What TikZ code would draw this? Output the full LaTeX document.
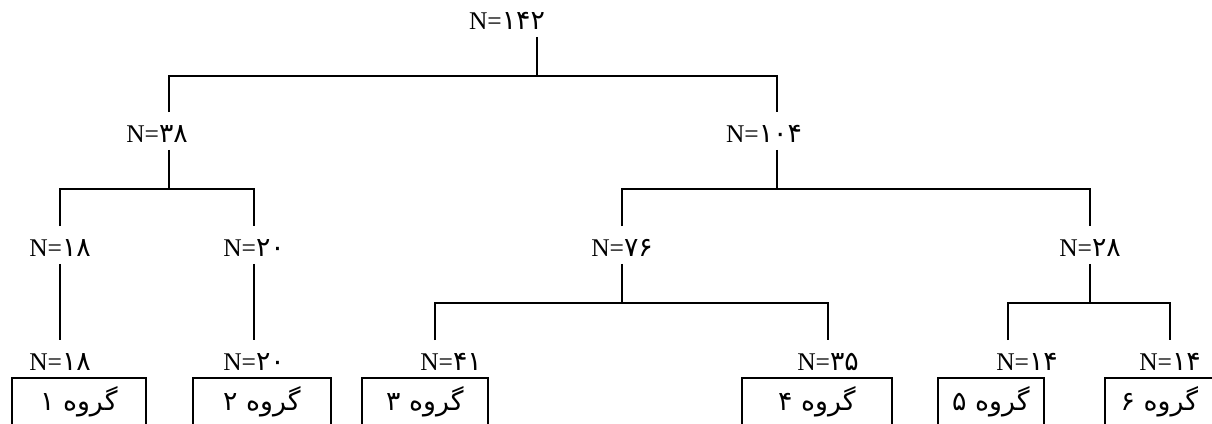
\documentclass[tikz,border=0pt]{standalone}
\usepackage{fontspec}
\setmainfont{Liberation Serif}
\newfontfamily\fa[Script=Arabic,Scale=1.05]{DejaVu Sans}
\TeXXeTstate=1
\begin{document}
\begin{tikzpicture}[x=0.02cm,y=-0.02cm,line width=1pt,
	lbl/.style={inner sep=0pt,text height=0.58cm,text depth=0.14cm,anchor=base,font=\fontsize{14.5}{16}\selectfont},
	grp/.style={inner sep=0pt,minimum height=0.9cm,anchor=north west,font=\fa\fontsize{14.5}{16}\selectfont}]
	\useasboundingbox (0,0) rectangle (1212,423);

	\node[lbl] (n142) at (507,29) {N={\fa ۱۴۲}};
	\node[lbl] (n38) at (157,142) {N={\fa ۳۸}};
	\node[lbl] (n104) at (764,142) {N={\fa ۱۰۴}};
	\node[lbl] (n18) at (60,256) {N={\fa ۱۸}};
	\node[lbl] (n20) at (254,256) {N={\fa ۲۰}};
	\node[lbl] (n76) at (622,256) {N={\fa ۷۶}};
	\node[lbl] (n28) at (1090,256) {N={\fa ۲۸}};

	\node[lbl] (g1n) at (60,370) {N={\fa ۱۸}};
	\node[lbl] (g2n) at (254,370) {N={\fa ۲۰}};
	\node[lbl] (g3n) at (451,370) {N={\fa ۴۱}};
	\node[lbl] (g4n) at (828,370) {N={\fa ۳۵}};
	\node[lbl] (g5n) at (1027,370) {N={\fa ۱۴}};
	\node[lbl] (g6n) at (1170,370) {N={\fa ۱۴}};

	% groups, open at the bottom
	\node[grp,minimum width=2.64cm] (g1) at (12,378) {\beginR گروه ۱\endR};
	\node[grp,minimum width=2.72cm] (g2) at (193,378) {\beginR گروه ۲\endR};
	\node[grp,minimum width=2.48cm] (g3) at (362,378) {\beginR گروه ۳\endR};
	\node[grp,minimum width=2.96cm] (g4) at (742,378) {\beginR گروه ۴\endR};
	\node[grp,minimum width=2.08cm] (g5) at (938,378) {\beginR گروه ۵\endR};
	\node[grp,minimum width=2.14cm] (g6) at (1105,378) {\beginR گروه ۶\endR};
	\foreach \g in {g1,g2,g3,g4,g5}
		\draw (\g.south west) |- (\g.north east) -- (\g.south east);
	\draw (g6.south west) |- (g6.north east);

	\draw ([xshift=0.6cm]n142.south) -- ++(0,39) coordinate (b1);
	\draw ([xshift=0.24cm]n38.north) |- (b1) -| ([xshift=0.26cm]n104.north);

	\draw ([xshift=0.24cm]n38.south) -- ++(0,39) coordinate (b2);
	\draw (n18.north) |- (b2) -| (n20.north);
	\draw ([xshift=0.26cm]n104.south) -- ++(0,39) coordinate (b3);
	\draw (n76.north) |- (b3) -| (n28.north);

	\draw (n18.south) -- (g1n.north);
	\draw (n20.south) -- (g2n.north);
	\draw (n76.south) -- ++(0,39) coordinate (b4);
	\draw ([xshift=-0.32cm]g3n.north) |- (b4) -| (g4n.north);
	\draw (n28.south) -- ++(0,39) coordinate (b5);
	\draw ([xshift=-0.38cm]g5n.north) |- (b5) -| (g6n.north);
\end{tikzpicture}
\end{document}
